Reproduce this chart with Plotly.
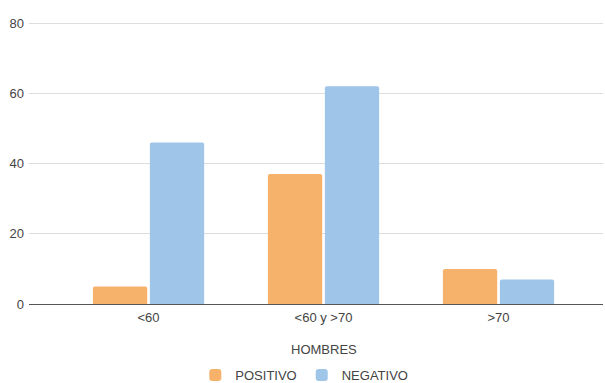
import plotly.graph_objects as go

categories = ["<60", "<60 y >70", ">70"]
positivo = [5, 37, 10]
negativo = [46, 62, 7]
y_ticks = [0, 20, 40, 60, 80]

text_color = "#444444"
font = dict(family="Liberation Sans, Arial, sans-serif", size=13, color=text_color)

fig = go.Figure()
fig.add_trace(go.Bar(name="POSITIVO", x=categories, y=positivo,
                     marker=dict(color="#f6b26b", line=dict(width=0))))
fig.add_trace(go.Bar(name="NEGATIVO", x=categories, y=negativo,
                     marker=dict(color="#9fc5e8", line=dict(width=0))))

fig.update_layout(
    width=605, height=383,
    margin=dict(l=29, r=2, t=22, b=79, autoexpand=False),
    paper_bgcolor="white", plot_bgcolor="white",
    font=font,
    barmode="group", bargap=0.349, bargroupgap=0.047,
    barcornerradius=2,
    showlegend=True,
    legend=dict(orientation="h", xref="container", yref="paper",
                x=0.503, xanchor="center", y=-0.199, yanchor="top",
                font=dict(size=13, color=text_color), itemwidth=30,
                traceorder="normal"),
    xaxis=dict(type="category", range=[-0.683, 2.597], showgrid=False,
               showline=False, zeroline=False, ticks="", automargin=False,
               ticklabelstandoff=4,
               tickfont=dict(size=13, color=text_color)),
    yaxis=dict(range=[0, 80.3], tickvals=y_ticks, showgrid=True, gridcolor="#dddddd",
               gridwidth=1, zeroline=True, zerolinecolor="#555555", zerolinewidth=1,
               showline=False, ticks="", ticklabelstandoff=4, automargin=False,
               tickfont=dict(size=13, color=text_color)),
    annotations=[dict(text="HOMBRES", x=1, xref="x", y=-0.16, yref="paper",
                      showarrow=False, yanchor="middle",
                      font=dict(size=13, color=text_color))],
)

fig.write_html("out.html")
